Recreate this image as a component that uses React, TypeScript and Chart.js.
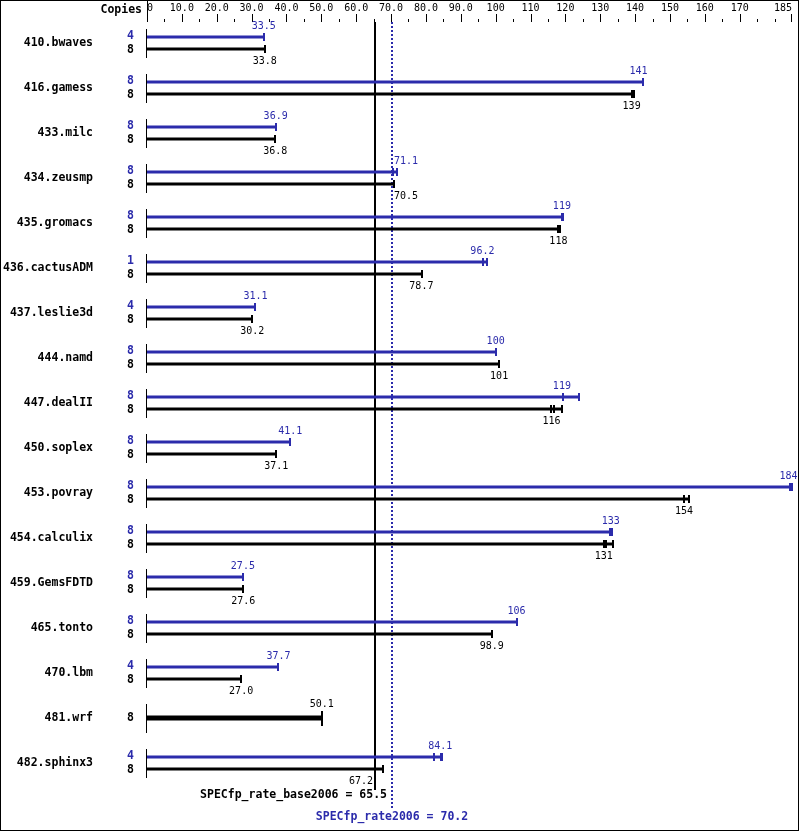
import React, { useEffect, useRef } from 'react';
import { Chart, registerables } from 'chart.js';

Chart.register(...registerables);

const benchmarks = [
  '410.bwaves', '416.gamess', '433.milc', '434.zeusmp', '435.gromacs', '436.cactusADM',
  '437.leslie3d', '444.namd', '447.dealII', '450.soplex', '453.povray', '454.calculix',
  '459.GemsFDTD', '465.tonto', '470.lbm', '481.wrf', '482.sphinx3',
];
const peakCopies = [4, 8, 8, 8, 8, 1, 4, 8, 8, 8, 8, 8, 8, 8, 4, null, 4];
const baseCopies = [8, 8, 8, 8, 8, 8, 8, 8, 8, 8, 8, 8, 8, 8, 8, 8, 8];
const peakValues = [33.5, 141, 36.9, 71.1, 119, 96.2, 31.1, 100, 119, 41.1, 184, 133, 27.5, 106, 37.7, null, 84.1];
const baseValues = [33.8, 139, 36.8, 70.5, 118, 78.7, 30.2, 101, 116, 37.1, 154, 131, 27.6, 98.9, 27.0, 50.1, 67.2];
// individual run results (tick marks); bar extends to the largest run
const peakRuns: number[][] = [
  [33.5], [142.2], [36.9], [70.6, 71.8], [119.0, 119.2, 119.4], [96.4, 97.4], [31.1], [100],
  [119.2, 119.4, 124.0], [41.1], [184.4, 185], [132.9, 133.5], [27.5], [106], [37.7], [], [82.4, 84.2, 84.7],
];
const baseRuns: number[][] = [
  [33.8], [139.2, 139.8], [36.8], [70.9], [117.9, 118.4], [79.0], [30.2], [101],
  [115.8, 116.7, 119.1], [37.1], [154.0, 155.5], [131.2, 131.6, 133.6], [27.6], [98.9], [27.0], [50.1], [67.6],
];
const majorTicks = [0, 10, 20, 30, 40, 50, 60, 70, 80, 90, 100, 110, 120, 130, 140, 150, 160, 170, 185];
const minorTicks = [5, 15, 25, 35, 45, 55, 65, 75, 85, 95, 105, 115, 125, 135, 145, 155, 165, 175, 180];
const specBase = 65.5;
const specPeak = 70.2;
const specBaseLabel = 'SPECfp_rate_base2006 = 65.5';
const specPeakLabel = 'SPECfp_rate2006 = 70.2';

const BLUE = '#2b2bab';
const BLACK = '#000000';
const MONO = '"DejaVu Sans Mono", monospace';

const fmt = (v: number) => (v >= 100 ? String(Math.round(v)) : v.toFixed(1));

const overlay = {
  id: 'specOverlay',
  beforeDatasetsDraw(chart: any) {
    const ctx = chart.ctx;
    const xs = chart.scales.x;
    const xb = Math.round(xs.getPixelForValue(specBase));
    const xp = Math.round(xs.getPixelForValue(specPeak));
    ctx.save();
    ctx.strokeStyle = BLACK;
    ctx.lineWidth = 2;
    ctx.beginPath();
    ctx.moveTo(xb, 22);
    ctx.lineTo(xb, 790);
    ctx.stroke();
    ctx.strokeStyle = BLUE;
    ctx.setLineDash([2, 2]);
    ctx.beginPath();
    ctx.moveTo(xp, 22);
    ctx.lineTo(xp, 810);
    ctx.stroke();
    ctx.restore();
  },
  afterDatasetsDraw(chart: any) {
    const ctx = chart.ctx;
    const xs = chart.scales.x;
    const ys = chart.scales.y;
    const x0 = xs.getPixelForValue(0);
    const xb = Math.round(xs.getPixelForValue(specBase));
    const xp = Math.round(xs.getPixelForValue(specPeak));
    const lines = [xb, xp];
    ctx.save();
    // frame
    ctx.strokeStyle = BLACK;
    ctx.lineWidth = 1;
    ctx.strokeRect(0.5, 0.5, chart.width - 1, chart.height - 1);
    // header
    ctx.fillStyle = BLACK;
    ctx.font = `bold 11.5px ${MONO}`;
    ctx.textAlign = 'right';
    ctx.textBaseline = 'middle';
    ctx.fillText('Copies', 142, 10);
    // axis tick marks
    majorTicks.forEach((v) => {
      const x = Math.round(xs.getPixelForValue(v));
      const top = v === 0 ? 1 : 14;
      ctx.fillRect(v === 185 ? x - 1 : x, top, 1, 22 - top);
    });
    minorTicks.forEach((v) => {
      const x = Math.round(xs.getPixelForValue(v));
      ctx.fillRect(x, 19, 1, 3);
    });

    const placeLabel = (text: string, xc: number) => {
      const w = ctx.measureText(text).width;
      const overlaps = (l: number) => lines.some((L) => l < L + 2 && l + w > L - 2);
      const cands = [xc - w / 2];
      lines.forEach((L) => { cands.push(L - 2 - w); cands.push(L + 2); });
      let best = cands[0];
      let bestD = Infinity;
      cands.forEach((c) => {
        if (overlaps(c)) return;
        const d = Math.abs(c - (xc - w / 2));
        if (d < bestD) { bestD = d; best = c; }
      });
      return best;
    };

    const mPeak = chart.getDatasetMeta(0);
    const mBase = chart.getDatasetMeta(1);
    const mOnly = chart.getDatasetMeta(2);

    benchmarks.forEach((_, i) => {
      const cy = ys.getPixelForValue(i);
      ctx.fillStyle = BLACK;
      ctx.fillRect(Math.round(x0) - 1, Math.round(cy) - 14, 1, 29);
      const hasPeak = peakValues[i] != null;
      if (hasPeak) {
        const py = mPeak.data[i].y;
        const by = mBase.data[i].y;
        // copies
        ctx.font = `bold 11.5px ${MONO}`;
        ctx.textAlign = 'right';
        ctx.textBaseline = 'middle';
        ctx.fillStyle = BLUE;
        ctx.fillText(String(peakCopies[i]), 134, py - 1);
        ctx.fillStyle = BLACK;
        ctx.fillText(String(baseCopies[i]), 134, by + 1);
        // run ticks
        ctx.fillStyle = BLUE;
        peakRuns[i].forEach((r) => {
          const x = Math.round(xs.getPixelForValue(r));
          ctx.fillRect(x - 1, Math.round(py) - 4, 2, 8);
        });
        ctx.fillStyle = BLACK;
        baseRuns[i].forEach((r) => {
          const x = Math.round(xs.getPixelForValue(r));
          ctx.fillRect(x - 1, Math.round(by) - 4, 2, 8);
        });
        // value labels
        ctx.font = `10px ${MONO}`;
        ctx.textAlign = 'left';
        ctx.fillStyle = BLUE;
        const pt = fmt(peakValues[i] as number);
        ctx.fillText(pt, placeLabel(pt, xs.getPixelForValue(peakValues[i])), py - 11);
        ctx.fillStyle = BLACK;
        const bt = fmt(baseValues[i]);
        ctx.fillText(bt, placeLabel(bt, xs.getPixelForValue(baseValues[i])), by + 12);
      } else {
        const oy = mOnly.data[i].y;
        ctx.font = `bold 11.5px ${MONO}`;
        ctx.textAlign = 'right';
        ctx.textBaseline = 'middle';
        ctx.fillStyle = BLACK;
        ctx.fillText(String(baseCopies[i]), 134, oy);
        baseRuns[i].forEach((r) => {
          const x = Math.round(xs.getPixelForValue(r));
          ctx.fillRect(x - 1, Math.round(oy) - 7, 2, 15);
        });
        ctx.font = `10px ${MONO}`;
        ctx.textAlign = 'left';
        const bt = fmt(baseValues[i]);
        ctx.fillText(bt, placeLabel(bt, xs.getPixelForValue(baseValues[i])), oy - 14);
      }
    });

    // summary labels
    ctx.font = `bold 11.5px ${MONO}`;
    ctx.textBaseline = 'middle';
    ctx.fillStyle = BLACK;
    ctx.textAlign = 'right';
    ctx.fillText(specBaseLabel, xb + 12, 795);
    ctx.fillStyle = BLUE;
    ctx.textAlign = 'center';
    ctx.fillText(specPeakLabel, xp, 817);
    ctx.restore();
  },
};

export default function App() {
  const ref = useRef<HTMLCanvasElement | null>(null);
  useEffect(() => {
    if (!ref.current) return;
    const hasPeak = peakValues.map((v) => v != null);
    const chart = new Chart(ref.current, {
      type: 'bar',
      data: {
        labels: benchmarks,
        datasets: [
          {
            label: 'peak',
            data: peakRuns.map((r, i) => (hasPeak[i] ? [0, Math.max(...r)] : null)) as any,
            backgroundColor: BLUE,
            borderWidth: 0,
            categoryPercentage: 24 / 45,
            barPercentage: 0.25,
          },
          {
            label: 'base',
            data: baseRuns.map((r, i) => (hasPeak[i] ? [0, Math.max(...r)] : null)) as any,
            backgroundColor: BLACK,
            borderWidth: 0,
            categoryPercentage: 24 / 45,
            barPercentage: 0.25,
          },
          {
            label: 'base only',
            data: baseRuns.map((r, i) => (!hasPeak[i] ? [0, Math.max(...r)] : null)) as any,
            backgroundColor: BLACK,
            borderWidth: 0,
            grouped: false,
            maxBarThickness: 5,
            categoryPercentage: 24 / 45,
            barPercentage: 0.25,
          } as any,
        ],
      },
      options: {
        indexAxis: 'y',
        animation: false,
        responsive: false,
        maintainAspectRatio: false,
        events: [],
        layout: { padding: { left: 0, right: 7, top: 0, bottom: 45.5 } },
        plugins: { legend: { display: false }, tooltip: { enabled: false } },
        scales: {
          x: {
            type: 'linear',
            position: 'top',
            min: 0,
            max: 185,
            afterBuildTicks: (s: any) => {
              s.ticks = majorTicks.map((v) => ({ value: v }));
            },
            afterFit: (s: any) => {
              s.height = 20.5;
              s.paddingLeft = 0;
              s.paddingRight = 0;
            },
            grid: { display: false, drawTicks: false },
            border: { display: false },
            ticks: {
              autoSkip: false,
              maxRotation: 0,
              align: 'inner',
              padding: 6,
              color: BLACK,
              font: { family: MONO, size: 10 },
              callback: (v: any) => (v === 0 ? '0' : v >= 100 ? String(v) : Number(v).toFixed(1)),
            },
          },
          y: {
            type: 'category',
            afterFit: (s: any) => {
              s.width = 147;
              s.paddingTop = 0;
              s.paddingBottom = 0;
            },
            grid: { display: false, drawTicks: false },
            border: { display: false },
            ticks: {
              autoSkip: false,
              padding: 54,
              color: BLACK,
              font: { family: MONO, size: 11.5, weight: 'bold' },
            },
          },
        },
      } as any,
      plugins: [overlay],
    });
    return () => chart.destroy();
  }, []);
  return (
    <div style={{ position: 'absolute', left: 0, top: 0, width: 799, height: 831, background: '#fff' }}>
      <canvas ref={ref} width={799} height={831} style={{ display: 'block', width: 799, height: 831 }} />
    </div>
  );
}
